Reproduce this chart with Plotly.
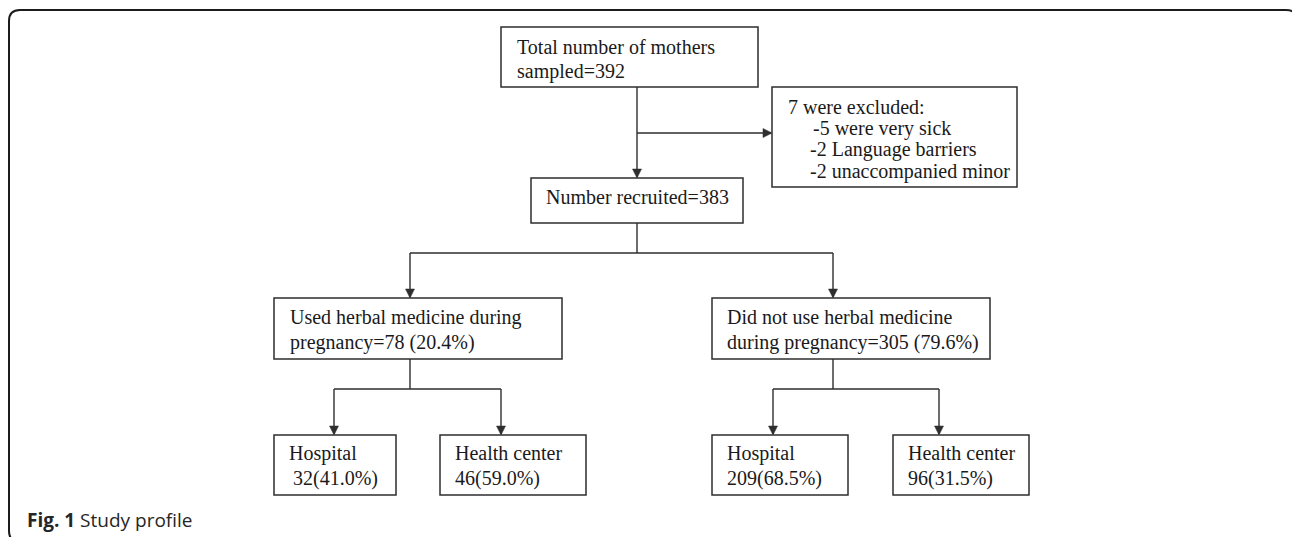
import plotly.graph_objects as go

# ---------------- data ----------------
total_sampled = 392
excluded_total = 7
excluded_reasons = ["5 were very sick", "2 Language barriers", "2 unaccompanied minor"]
recruited = 383
group_label_lines = [["Used herbal medicine during", "pregnancy"],
                     ["Did not use herbal medicine", "during pregnancy"]]
group_counts = [78, 305]
group_pcts = [20.4, 79.6]
facility_labels = ["Hospital", "Health center"]
facility_counts = [[32, 46], [209, 96]]
facility_pcts = [[41.0, 59.0], [68.5, 31.5]]
caption_bold = "Fig. 1"
caption_text = "Study profile"

# ---------------- layout geometry (pixels) ----------------
W, H = 1292, 537
LINE = "#2e2e2e"
FONT = "Liberation Serif, Times New Roman, serif"
FS = 20

# boxes: (x0, y0, x1, y1)
box_total = (501, 27, 758, 87)
box_excl = (772, 87, 1017, 187)
box_recr = (531, 178, 743, 223)
box_groups = [(274, 298, 562, 359), (712, 298, 990, 359)]
box_fac = [[(274, 435, 396, 495), (440, 435, 586, 495)],
           [(712, 435, 848, 495), (893, 435, 1029, 495)]]

shapes = []
annotations = []


def rect(b):
    shapes.append(dict(type="rect", xref="x", yref="y", x0=b[0], y0=b[1], x1=b[2], y1=b[3],
                       line=dict(color=LINE, width=1.5), fillcolor="rgba(0,0,0,0)", layer="above"))


def line(x0, y0, x1, y1):
    shapes.append(dict(type="line", xref="x", yref="y", x0=x0, y0=y0, x1=x1, y1=y1,
                       line=dict(color=LINE, width=1.4), layer="above"))


def arrow_down(x, y):  # tip at (x, y)
    shapes.append(dict(type="path", xref="x", yref="y",
                       path=f"M {x-4.5},{y-9} L {x+4.5},{y-9} L {x},{y} Z",
                       fillcolor=LINE, line=dict(color=LINE, width=0.5), layer="above"))


def arrow_right(x, y):
    shapes.append(dict(type="path", xref="x", yref="y",
                       path=f"M {x-9},{y-4.5} L {x-9},{y+4.5} L {x},{y} Z",
                       fillcolor=LINE, line=dict(color=LINE, width=0.5), layer="above"))


def text_lines(x, ys, lines, shifts=None):
    for i, (y, t) in enumerate(zip(ys, lines)):
        annotations.append(dict(x=x + (shifts[i] if shifts else 0), y=y, xref="x", yref="y",
                                text=t, showarrow=False, xanchor="left", yanchor="middle",
                                font=dict(family=FONT, size=FS, color="#1a1a1a")))


# frame (rounded rect, partly off-canvas)
fx0, fy0, fx1, fy1, r = 9, 10, 1297, 542, 11
shapes.append(dict(type="path", xref="x", yref="y",
                   path=(f"M {fx0+r},{fy0} L {fx1-r},{fy0} Q {fx1},{fy0} {fx1},{fy0+r} "
                         f"L {fx1},{fy1-r} Q {fx1},{fy1} {fx1-r},{fy1} L {fx0+r},{fy1} "
                         f"Q {fx0},{fy1} {fx0},{fy1-r} L {fx0},{fy0+r} Q {fx0},{fy0} {fx0+r},{fy0} Z"),
                   line=dict(color="#1c1c1c", width=2), fillcolor="rgba(0,0,0,0)"))

# boxes
for b in [box_total, box_excl, box_recr] + box_groups + [b for row in box_fac for b in row]:
    rect(b)

# connectors: total -> recruited, with branch to excluded
cx = 637
line(cx, box_total[3], cx, box_recr[1] - 1)
arrow_down(cx, box_recr[1])
branch_y = 133
line(cx, branch_y, box_excl[0] - 1, branch_y)
arrow_right(box_excl[0], branch_y)

# recruited -> groups
split_y = 253
group_cx = [410, 833]
line(cx, box_recr[3], cx, split_y)
line(group_cx[0], split_y, group_cx[1], split_y)
for gx, b in zip(group_cx, box_groups):
    line(gx, split_y, gx, b[1] - 1)
    arrow_down(gx, b[1])

# groups -> facilities
fac_split_y = 389
fac_cx = [[334, 501], [773, 939]]
for gi, gx in enumerate(group_cx):
    line(gx, box_groups[gi][3], gx, fac_split_y)
    line(fac_cx[gi][0], fac_split_y, fac_cx[gi][1], fac_split_y)
    for fi, fx in enumerate(fac_cx[gi]):
        line(fx, fac_split_y, fx, box_fac[gi][fi][1] - 1)
        arrow_down(fx, box_fac[gi][fi][1])

# texts
text_lines(515, [47, 71], ["Total number of mothers", f"sampled={total_sampled}"])
text_lines(786, [107, 128, 149, 171],
           [f"{excluded_total} were excluded:"] + [f"-{r_}" for r_ in excluded_reasons],
           shifts=[0, 25, 22, 22])
text_lines(544, [197], [f"Number recruited={recruited}"])
group_text_x = [288, 725]
for gi in range(2):
    lines = list(group_label_lines[gi])
    lines[-1] = f"{lines[-1]}={group_counts[gi]} ({group_pcts[gi]:.1f}%)"
    text_lines(group_text_x[gi], [317, 342], lines)
for gi in range(2):
    for fi in range(2):
        b = box_fac[gi][fi]
        shift = [0, 4] if (gi == 0 and fi == 0) else [0, 0]
        text_lines(b[0] + 13, [453, 478],
                   [facility_labels[fi], f"{facility_counts[gi][fi]}({facility_pcts[gi][fi]:.1f}%)"],
                   shifts=shift)

# caption
annotations.append(dict(x=25, y=520, xref="x", yref="y",
                        text=f"<b>{caption_bold}</b> {caption_text}", showarrow=False,
                        xanchor="left", yanchor="middle",
                        font=dict(family="Open Sans, Noto Sans, sans-serif", size=19, color="#262626")))

fig = go.Figure()
fig.update_layout(
    width=W, height=H, autosize=False,
    margin=dict(l=0, r=0, t=0, b=0),
    paper_bgcolor="white", plot_bgcolor="white",
    xaxis=dict(range=[0, W], visible=False, fixedrange=True),
    yaxis=dict(range=[H, 0], visible=False, fixedrange=True),
    shapes=shapes, annotations=annotations, showlegend=False,
)
fig.write_html("out.html", config={"displayModeBar": False},
               post_script="document.body.style.margin='0';document.body.style.overflow='hidden';")
